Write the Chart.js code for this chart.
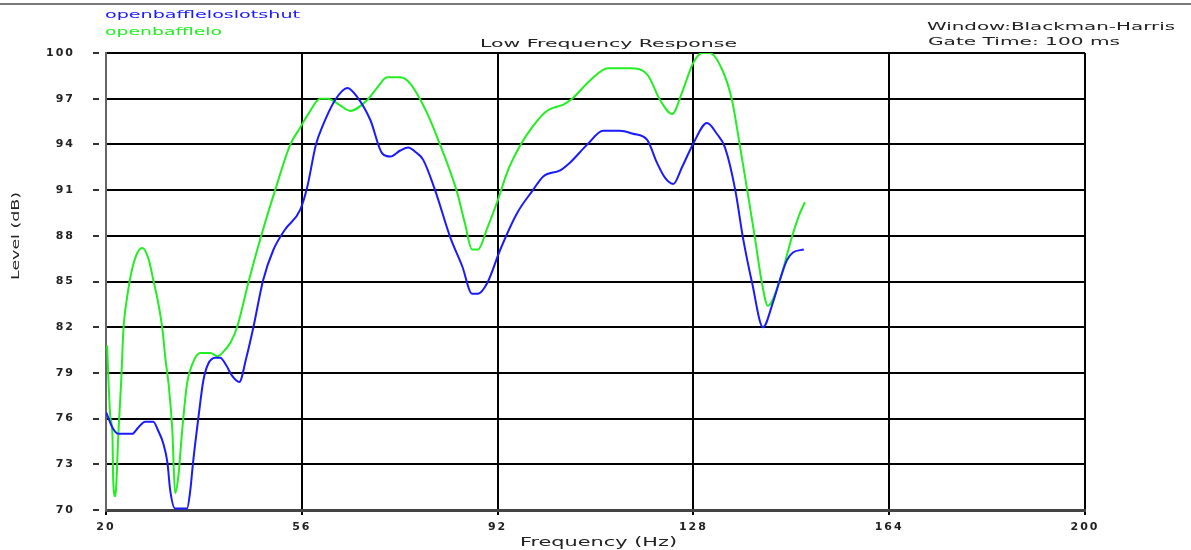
<!DOCTYPE html>
<html>
<head>
<meta charset="utf-8">
<title>Low Frequency Response</title>
<script src="https://cdn.jsdelivr.net/npm/chart.js@4"></script>
<style>
  html, body { margin: 0; padding: 0; background: #fff; }
  canvas { display: block; }
</style>
</head>
<body>
<canvas id="chart" width="1191" height="550"></canvas>
<script>
/* low frequency response chart */

const seriesNames = ['openbaffleloslotshut', 'openbafflelo'];

const xTicks = [20, 56, 92, 128, 164, 200];
const yTicks = [70, 73, 76, 79, 82, 85, 88, 91, 94, 97, 100];

// openbaffleloslotshut
const blueFreq = [20.05, 21.2, 22.3, 24.8, 25.9, 27.2, 28.7, 29.6, 30.5, 31.3, 31.8, 32.7, 34.9, 35.5, 36.0,
  37.0, 37.9, 38.8, 40.1, 41.0, 42.1, 43.2, 44.5, 45.8, 47.1, 48.9, 50.8, 52.9, 55.7, 57.0,
  58.6, 59.7, 62.1, 64.4, 66.2, 68.6, 70.8, 72.3, 74.1, 75.6, 76.9, 78.3, 80.5, 83.3, 85.5,
  87.3, 88.4, 90.1, 92.5, 95.6, 98.5, 100.4, 103.5, 105.3, 108.5, 111.4, 114.5, 116.9, 119.5, 121.3,
  122.8, 124.3, 125.9, 127.9, 130.5, 132.3, 133.8, 135.7, 137.1, 138.8, 140.8, 142.6, 143.9, 145.2, 146.3,
  148.3];
const blueLevel = [76.4, 75.4, 75.0, 75.0, 75.4, 75.8, 75.8, 75.2, 74.4, 73.1, 71.3, 70.1, 70.1, 71.3, 73.1,
  76.1, 78.5, 79.6, 80.0, 80.0, 79.5, 78.8, 78.4, 80.0, 82.0, 85.1, 87.1, 88.4, 89.7, 91.2,
  94.0, 95.1, 96.9, 97.7, 97.1, 95.6, 93.4, 93.2, 93.6, 93.8, 93.5, 93.0, 91.0, 87.9, 86.0,
  84.2, 84.2, 84.9, 87.1, 89.5, 91.0, 91.9, 92.3, 92.8, 94.0, 94.9, 94.9, 94.7, 94.3, 92.8,
  91.8, 91.4, 92.5, 94.0, 95.4, 94.7, 93.8, 91.0, 87.9, 84.9, 82.0, 83.6, 85.1, 86.4, 86.9,
  87.1];

// openbafflelo
const greenFreq = [20.2, 20.8, 21.2, 21.3, 21.7, 22.3, 22.8, 23.2, 23.9, 24.8, 25.8, 26.7, 27.8, 28.7, 29.6,
  30.4, 30.9, 31.5, 32.2, 32.7, 33.3, 34.0, 34.9, 35.9, 37.3, 39.2, 40.5, 41.6, 42.9, 44.1,
  46.3, 48.7, 51.1, 53.9, 55.7, 57.2, 59.4, 60.8, 62.9, 64.9, 68.0, 69.8, 71.7, 74.1, 75.9,
  79.1, 81.4, 83.0, 84.6, 86.0, 87.3, 88.4, 90.1, 91.9, 93.9, 96.1, 98.3, 100.7, 102.2, 104.0,
  105.7, 109.0, 112.3, 116.4, 119.5, 121.9, 124.1, 125.9, 127.9, 129.6, 131.0, 133.3, 135.1, 136.6, 137.9,
  139.3, 140.6, 141.7, 143.9, 146.1, 147.6, 148.5];
const greenLevel = [80.8, 76.1, 74.8, 72.2, 70.9, 75.2, 78.5, 81.8, 84.0, 85.8, 86.9, 87.2, 86.5, 85.1, 83.6,
  81.8, 80.0, 78.3, 75.2, 71.1, 72.2, 75.2, 78.3, 79.6, 80.3, 80.3, 80.1, 80.4, 81.0, 82.0,
  85.1, 88.2, 91.0, 94.0, 95.1, 96.0, 97.0, 97.0, 96.6, 96.2, 96.9, 97.7, 98.4, 98.4, 98.0,
  96.0, 94.0, 92.5, 90.8, 88.8, 87.1, 87.1, 88.5, 90.2, 92.3, 93.9, 95.1, 96.1, 96.4, 96.6,
  97.0, 98.2, 99.0, 99.0, 98.6, 96.9, 96.0, 97.4, 99.3, 100.0, 100.0, 98.9, 96.9, 93.8, 91.0,
  87.9, 84.9, 83.4, 85.1, 87.9, 89.5, 90.2];

const BLUE = '#1a1aff';
const GREEN = '#22ee22';
const TEXT_FONT = '"DejaVu Sans", sans-serif';

function toPoints(xs, ys) {
  return xs.map((x, i) => ({ x, y: ys[i] }));
}

// draws text stretched horizontally to a given width (the original uses a wide bitmap font)
function wideText(ctx, text, x, y, w, color, opts = {}) {
  ctx.save();
  ctx.font = (opts.bold ? 'bold ' : '') + (opts.size || 11) + 'px ' + TEXT_FONT;
  ctx.fillStyle = color;
  ctx.textAlign = 'left';
  ctx.textBaseline = 'alphabetic';
  const m = ctx.measureText(text).width;
  ctx.translate(x, y);
  if (opts.rotate) ctx.rotate(opts.rotate);
  ctx.scale(w / m, 1);
  ctx.fillText(text, 0, 0);
  ctx.restore();
}

const decorations = {
  id: 'decorations',
  beforeDraw(chart) {
    chart.ctx.letterSpacing = '2px';
  },
  beforeDatasetsDraw(chart) {
    chart.ctx.letterSpacing = '0px';
  },
  afterDraw(chart) {
    const ctx = chart.ctx;
    const y = chart.scales.y;

    // window frame line at the very top
    ctx.save();
    ctx.fillStyle = '#7a7a7a';
    ctx.fillRect(0, 3, chart.width, 2);

    // detached tick dashes left of the level axis
    ctx.strokeStyle = '#333';
    ctx.lineWidth = 2;
    yTicks.forEach(v => {
      const py = Math.round(y.getPixelForValue(v));
      ctx.beginPath();
      ctx.moveTo(93, py);
      ctx.lineTo(99, py);
      ctx.stroke();
    });
    ctx.restore();

    wideText(ctx, seriesNames[0], 105, 18, 195, BLUE);
    wideText(ctx, seriesNames[1], 105, 35, 117, GREEN);
    wideText(ctx, 'Window:Blackman-Harris', 927, 30, 248, '#222');
    wideText(ctx, 'Gate Time: 100 ms', 928, 45, 192, '#222');
    wideText(ctx, 'Low Frequency Response', 480, 47, 257, '#222');
    wideText(ctx, 'Frequency (Hz)', 520, 546, 157, '#222', { size: 12 });
    wideText(ctx, 'Level (dB)', 19, 280, 88, '#222', { rotate: -Math.PI / 2 });
  }
};

const tickFont = { family: TEXT_FONT, size: 11, weight: 'bold' };

new Chart(document.getElementById('chart'), {
  type: 'line',
  data: {
    datasets: [
      {
        label: seriesNames[0],
        data: toPoints(blueFreq, blueLevel),
        borderColor: BLUE,
        borderWidth: 2,
        pointRadius: 0,
        cubicInterpolationMode: 'monotone',
        fill: false
      },
      {
        label: seriesNames[1],
        data: toPoints(greenFreq, greenLevel),
        borderColor: GREEN,
        borderWidth: 2,
        pointRadius: 0,
        cubicInterpolationMode: 'monotone',
        fill: false
      }
    ]
  },
  options: {
    responsive: false,
    animation: false,
    devicePixelRatio: 1,
    layout: { padding: { top: 53, right: 106, bottom: 0, left: 0 } },
    plugins: {
      legend: { display: false },
      title: { display: false },
      tooltip: { enabled: false }
    },
    scales: {
      x: {
        type: 'linear',
        min: 20,
        max: 200,
        afterBuildTicks: s => { s.ticks = xTicks.map(v => ({ value: v })); },
        ticks: { color: '#222', font: tickFont, padding: 6, maxRotation: 0 },
        grid: { color: '#000', lineWidth: 2, tickLength: 5 },
        border: { color: '#444', width: 3 },
        afterFit: s => { s.height = 40; }
      },
      y: {
        min: 70,
        max: 100,
        afterBuildTicks: s => { s.ticks = yTicks.map(v => ({ value: v })); },
        ticks: { color: '#222', font: tickFont, padding: 31 },
        grid: { color: '#000', lineWidth: 2, drawTicks: false },
        border: { color: '#666', width: 2 },
        afterFit: s => { s.width = 106; }
      }
    }
  },
  plugins: [decorations]
});
</script>
</body>
</html>
